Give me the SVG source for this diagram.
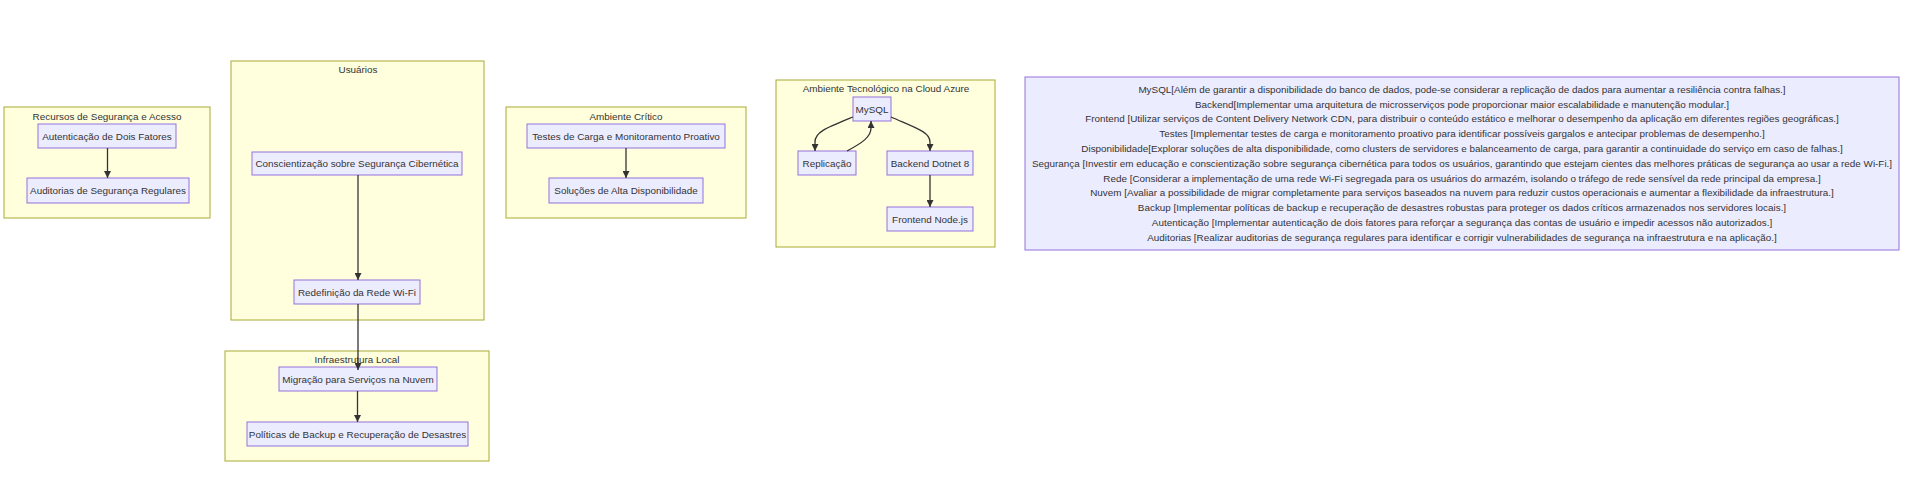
<svg xmlns="http://www.w3.org/2000/svg" width="1907" height="491" viewBox="0 0 1907 491">
<style>
  .cluster rect { fill: #ffffde; stroke: #aaaa33; stroke-width: 1; }
  .node rect { fill: #ECECFF; stroke: #9370DB; stroke-width: 1; }
  text { font-family: "Liberation Sans", Arial, sans-serif; font-size: 9.9px; fill: #333333; text-anchor: middle; }
  .edge { fill: none; stroke: #333333; stroke-width: 1.3; marker-end: url(#arrow); }
</style>
<defs>
  <marker id="arrow" viewBox="0 0 10 10" refX="10" refY="5" markerUnits="userSpaceOnUse" markerWidth="7" markerHeight="7" orient="auto">
    <path d="M0,0 L10,5 L0,10 z" fill="#333333"/>
  </marker>
</defs>
<rect width="1907" height="491" fill="#ffffff"/>

<g id="cluster-recursos" class="cluster">
  <rect x="4" y="107" width="206" height="111"/>
  <text x="107" y="119.5">Recursos de Segurança e Acesso</text>
</g>
<g id="cluster-usuarios" class="cluster">
  <rect x="231" y="61" width="253" height="259"/>
  <text x="358" y="72.5">Usuários</text>
</g>
<g id="cluster-infra" class="cluster">
  <rect x="225" y="351" width="264" height="110"/>
  <text x="357" y="362.5">Infraestrutura Local</text>
</g>
<g id="cluster-critico" class="cluster">
  <rect x="506" y="107" width="240" height="111"/>
  <text x="626" y="119.5">Ambiente Crítico</text>
</g>
<g id="cluster-azure" class="cluster">
  <rect x="776" y="80" width="219" height="167"/>
  <text x="886" y="91.8">Ambiente Tecnológico na Cloud Azure</text>
</g>

<g id="node-autenticacao" class="node">
  <rect x="38" y="124" width="138" height="24"/>
  <text x="107" y="139.5">Autenticação de Dois Fatores</text>
</g>
<g id="node-auditorias" class="node">
  <rect x="27" y="178" width="162" height="25"/>
  <text x="108" y="194">Auditorias de Segurança Regulares</text>
</g>
<g id="node-conscientizacao" class="node">
  <rect x="252" y="152" width="210" height="23"/>
  <text x="357" y="167">Conscientização sobre Segurança Cibernética</text>
</g>
<g id="node-redefinicao" class="node">
  <rect x="294" y="280" width="126" height="24"/>
  <text x="357" y="295.5">Redefinição da Rede Wi-Fi</text>
</g>
<g id="node-migracao" class="node">
  <rect x="279" y="367" width="158" height="24"/>
  <text x="358" y="382.5">Migração para Serviços na Nuvem</text>
</g>
<g id="node-politicas" class="node">
  <rect x="247" y="422" width="221" height="24"/>
  <text x="357.5" y="437.5">Políticas de Backup e Recuperação de Desastres</text>
</g>
<g id="node-testes" class="node">
  <rect x="527" y="124" width="198" height="24"/>
  <text x="626" y="139.5">Testes de Carga e Monitoramento Proativo</text>
</g>
<g id="node-solucoes" class="node">
  <rect x="549" y="178" width="154" height="25"/>
  <text x="626" y="194">Soluções de Alta Disponibilidade</text>
</g>
<g id="node-mysql" class="node">
  <rect x="853" y="97" width="38" height="24"/>
  <text x="872" y="112.5">MySQL</text>
</g>
<g id="node-replicacao" class="node">
  <rect x="798" y="151" width="58" height="24"/>
  <text x="827" y="166.5">Replicação</text>
</g>
<g id="node-backend" class="node">
  <rect x="887" y="151" width="86" height="24"/>
  <text x="930" y="166.5">Backend Dotnet 8</text>
</g>
<g id="node-frontend" class="node">
  <rect x="887" y="207" width="86" height="24"/>
  <text x="930" y="222.5">Frontend Node.js</text>
</g>

<g id="node-notas" class="node">
  <rect x="1025" y="77" width="874" height="173"/>
  <text x="1462" y="92.8">MySQL[Além de garantir a disponibilidade do banco de dados, pode-se considerar a replicação de dados para aumentar a resiliência contra falhas.]</text>
  <text x="1462" y="107.6">Backend[Implementar uma arquitetura de microsserviços pode proporcionar maior escalabilidade e manutenção modular.]</text>
  <text x="1462" y="122.4">Frontend [Utilizar serviços de Content Delivery Network CDN, para distribuir o conteúdo estático e melhorar o desempenho da aplicação em diferentes regiões geográficas.]</text>
  <text x="1462" y="137.2">Testes [Implementar testes de carga e monitoramento proativo para identificar possíveis gargalos e antecipar problemas de desempenho.]</text>
  <text x="1462" y="152">Disponibilidade[Explorar soluções de alta disponibilidade, como clusters de servidores e balanceamento de carga, para garantir a continuidade do serviço em caso de falhas.]</text>
  <text x="1462" y="166.8">Segurança [Investir em educação e conscientização sobre segurança cibernética para todos os usuários, garantindo que estejam cientes das melhores práticas de segurança ao usar a rede Wi-Fi.]</text>
  <text x="1462" y="181.6">Rede [Considerar a implementação de uma rede Wi-Fi segregada para os usuários do armazém, isolando o tráfego de rede sensível da rede principal da empresa.]</text>
  <text x="1462" y="196.4">Nuvem [Avaliar a possibilidade de migrar completamente para serviços baseados na nuvem para reduzir custos operacionais e aumentar a flexibilidade da infraestrutura.]</text>
  <text x="1462" y="211.2">Backup [Implementar políticas de backup e recuperação de desastres robustas para proteger os dados críticos armazenados nos servidores locais.]</text>
  <text x="1462" y="226">Autenticação [Implementar autenticação de dois fatores para reforçar a segurança das contas de usuário e impedir acessos não autorizados.]</text>
  <text x="1462" y="240.8">Auditorias [Realizar auditorias de segurança regulares para identificar e corrigir vulnerabilidades de segurança na infraestrutura e na aplicação.]</text>
</g>

<g id="connectors">
  <path class="edge" d="M107.5,148 L107.5,178"/>
  <path class="edge" d="M358,175 L358,280"/>
  <path class="edge" d="M358,304 L358,370"/>
  <path class="edge" d="M357.5,391 L357.5,422"/>
  <path class="edge" d="M626,148 L626,178"/>
  <path class="edge" d="M853,117 C826,128 815,132 815,142 L815,151"/>
  <path class="edge" d="M847,151 C862,143 871,137 871,128 L871,121"/>
  <path class="edge" d="M891,117 C916,128 930,132 930,142 L930,151"/>
  <path class="edge" d="M930,175 L930,207"/>
</g>
</svg>
